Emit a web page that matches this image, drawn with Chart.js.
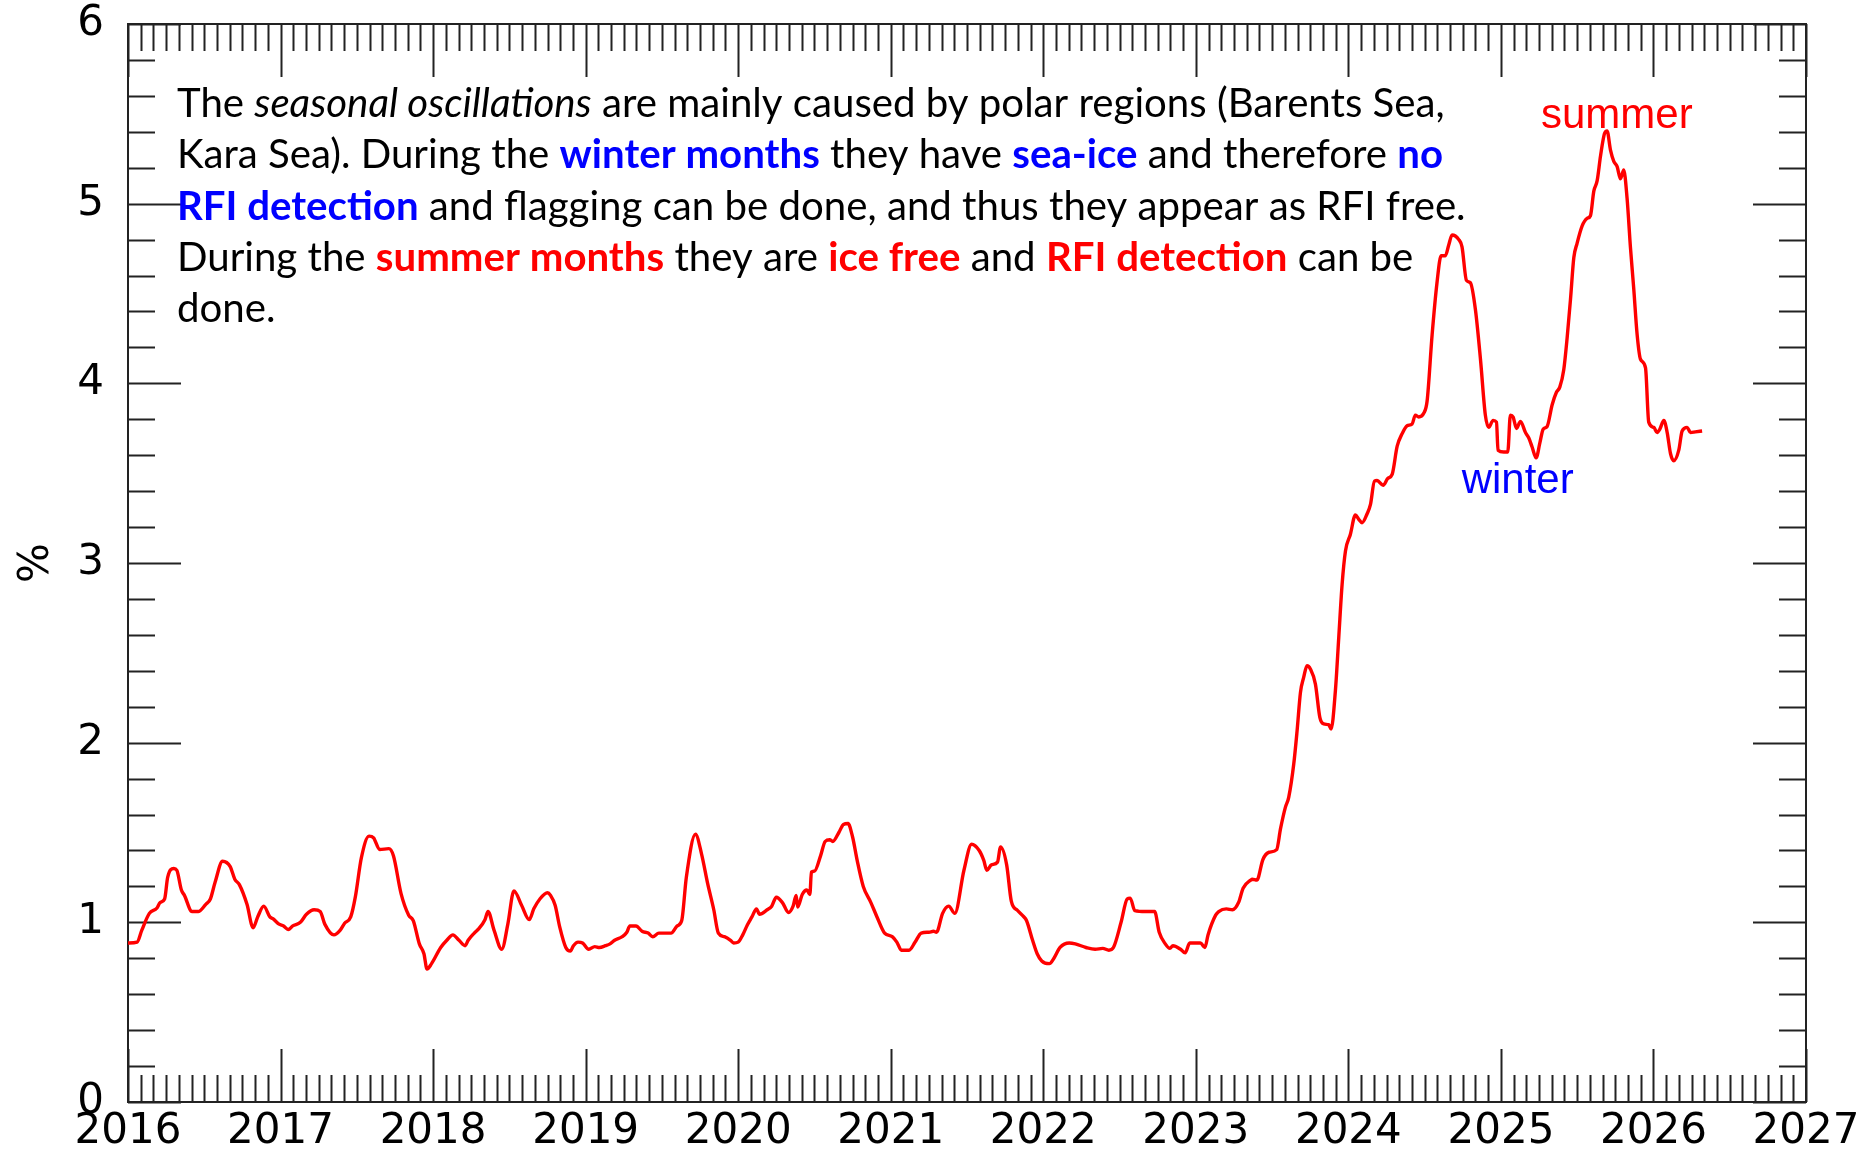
<!DOCTYPE html>
<html>
<head>
<meta charset="utf-8">
<title>RFI flagged percentage</title>
<script src="https://cdn.jsdelivr.net/npm/chart.js@4.4.1/dist/chart.umd.min.js"></script>
<style>
  html, body { margin: 0; padding: 0; background: #fff; }
  canvas { display: block; }
</style>
</head>
<body>
<canvas id="rfiChart" width="1875" height="1152"></canvas>
<script>
// sample time as decimal year
var years = [
  2016.00, 2016.06, 2016.09, 2016.14, 2016.19, 2016.21, 2016.24, 2016.26, 2016.30, 2016.32,
  2016.35, 2016.37, 2016.42, 2016.46, 2016.51, 2016.54, 2016.57, 2016.62, 2016.67, 2016.70,
  2016.73, 2016.78, 2016.82, 2016.85, 2016.89, 2016.93, 2016.95, 2016.99, 2017.02, 2017.05,
  2017.08, 2017.13, 2017.17, 2017.22, 2017.26, 2017.29, 2017.35, 2017.39, 2017.42, 2017.46,
  2017.49, 2017.53, 2017.58, 2017.61, 2017.65, 2017.71, 2017.74, 2017.79, 2017.84, 2017.87,
  2017.91, 2017.94, 2017.96, 2017.99, 2018.05, 2018.09, 2018.13, 2018.17, 2018.21, 2018.23,
  2018.27, 2018.30, 2018.34, 2018.36, 2018.40, 2018.45, 2018.49, 2018.53, 2018.58, 2018.63,
  2018.66, 2018.70, 2018.75, 2018.77, 2018.80, 2018.83, 2018.87, 2018.90, 2018.92, 2018.95,
  2018.98, 2019.02, 2019.06, 2019.09, 2019.13, 2019.16, 2019.19, 2019.24, 2019.27, 2019.29,
  2019.33, 2019.37, 2019.41, 2019.44, 2019.48, 2019.56, 2019.60, 2019.63, 2019.66, 2019.72,
  2019.76, 2019.80, 2019.84, 2019.87, 2019.91, 2019.95, 2019.97, 2020.00, 2020.03, 2020.06,
  2020.09, 2020.12, 2020.14, 2020.19, 2020.22, 2020.25, 2020.29, 2020.33, 2020.36, 2020.38,
  2020.39, 2020.42, 2020.45, 2020.47, 2020.48, 2020.50, 2020.54, 2020.57, 2020.60, 2020.62,
  2020.66, 2020.69, 2020.72, 2020.75, 2020.78, 2020.82, 2020.87, 2020.91, 2020.96, 2021.01,
  2021.04, 2021.07, 2021.12, 2021.16, 2021.20, 2021.25, 2021.28, 2021.30, 2021.34, 2021.38,
  2021.42, 2021.48, 2021.53, 2021.58, 2021.61, 2021.63, 2021.66, 2021.70, 2021.72, 2021.76,
  2021.79, 2021.83, 2021.87, 2021.89, 2021.93, 2021.96, 2021.99, 2022.04, 2022.07, 2022.11,
  2022.17, 2022.21, 2022.28, 2022.34, 2022.39, 2022.43, 2022.46, 2022.51, 2022.55, 2022.57,
  2022.60, 2022.67, 2022.73, 2022.76, 2022.80, 2022.83, 2022.85, 2022.90, 2022.93, 2022.96,
  2023.00, 2023.03, 2023.06, 2023.08, 2023.13, 2023.15, 2023.20, 2023.24, 2023.28, 2023.31,
  2023.36, 2023.37, 2023.40, 2023.44, 2023.48, 2023.53, 2023.555, 2023.587, 2023.609, 2023.642,
  2023.664, 2023.686, 2023.707, 2023.729, 2023.751, 2023.784, 2023.813, 2023.839, 2023.871, 2023.887,
  2023.915, 2023.937, 2023.959, 2023.981, 2024.013, 2024.046, 2024.068, 2024.090, 2024.123, 2024.145,
  2024.171, 2024.188, 2024.228, 2024.258, 2024.287, 2024.320, 2024.352, 2024.385, 2024.418, 2024.439,
  2024.461, 2024.494, 2024.516, 2024.549, 2024.581, 2024.608, 2024.636, 2024.658, 2024.680, 2024.724,
  2024.745, 2024.774, 2024.800, 2024.833, 2024.866, 2024.898, 2024.920, 2024.949, 2024.971, 2024.981,
  2025.019, 2025.045, 2025.062, 2025.080, 2025.102, 2025.128, 2025.161, 2025.183, 2025.204, 2025.231,
  2025.255, 2025.277, 2025.303, 2025.336, 2025.364, 2025.386, 2025.412, 2025.434, 2025.456, 2025.478,
  2025.499, 2025.532, 2025.565, 2025.587, 2025.609, 2025.631, 2025.653, 2025.679, 2025.696, 2025.718,
  2025.740, 2025.762, 2025.784, 2025.805, 2025.827, 2025.849, 2025.871, 2025.893, 2025.915, 2025.948,
  2025.969, 2026.002, 2026.024, 2026.042, 2026.068, 2026.090, 2026.112, 2026.133, 2026.166, 2026.188,
  2026.221, 2026.243, 2026.275, 2026.319
];

// flagged percentage (%)
var rfiPercent = [
  0.885, 0.89, 0.955, 1.05, 1.08, 1.11, 1.13, 1.25, 1.30, 1.29,
  1.18, 1.15, 1.06, 1.06, 1.10, 1.13, 1.22, 1.34, 1.31, 1.24,
  1.21, 1.10, 0.97, 1.03, 1.09, 1.03, 1.02, 0.99, 0.98, 0.96,
  0.98, 1.00, 1.045, 1.07, 1.06, 0.99, 0.93, 0.955, 0.995, 1.03,
  1.14, 1.36, 1.48, 1.47, 1.405, 1.41, 1.37, 1.16, 1.04, 1.01,
  0.88, 0.825, 0.74, 0.77, 0.86, 0.90, 0.93, 0.90, 0.87, 0.90,
  0.94, 0.965, 1.015, 1.06, 0.955, 0.85, 0.99, 1.175, 1.095, 1.015,
  1.075, 1.13, 1.165, 1.15, 1.095, 0.975, 0.86, 0.84, 0.87, 0.89,
  0.885, 0.85, 0.865, 0.86, 0.87, 0.88, 0.90, 0.92, 0.945, 0.98,
  0.98, 0.95, 0.94, 0.92, 0.94, 0.94, 0.98, 1.01, 1.25, 1.49,
  1.38, 1.215, 1.07, 0.94, 0.92, 0.90, 0.885, 0.89, 0.93, 0.985,
  1.03, 1.075, 1.045, 1.07, 1.09, 1.14, 1.11, 1.055, 1.09, 1.15,
  1.085, 1.155, 1.18, 1.155, 1.28, 1.285, 1.37, 1.45, 1.46, 1.45,
  1.50, 1.545, 1.55, 1.475, 1.345, 1.20, 1.11, 1.03, 0.94, 0.92,
  0.89, 0.845, 0.845, 0.89, 0.94, 0.945, 0.95, 0.945, 1.05, 1.09,
  1.05, 1.29, 1.435, 1.40, 1.345, 1.29, 1.32, 1.335, 1.42, 1.32,
  1.12, 1.067, 1.033, 1.01, 0.90, 0.825, 0.785, 0.77, 0.80, 0.86,
  0.885, 0.88, 0.86, 0.85, 0.855, 0.845, 0.86, 1.00, 1.13, 1.135,
  1.065, 1.06, 1.06, 0.945, 0.88, 0.855, 0.87, 0.85, 0.83, 0.885,
  0.885, 0.885, 0.86, 0.93, 1.04, 1.06, 1.075, 1.07, 1.11, 1.19,
  1.235, 1.24, 1.235, 1.35, 1.39, 1.405, 1.52, 1.64, 1.696, 1.881,
  2.067, 2.28, 2.363, 2.428, 2.41, 2.326, 2.141, 2.104, 2.10, 2.076,
  2.289, 2.585, 2.881, 3.067, 3.159, 3.267, 3.243, 3.224, 3.274, 3.326,
  3.456, 3.459, 3.433, 3.470, 3.493, 3.65, 3.719, 3.764, 3.774, 3.823,
  3.813, 3.833, 3.90, 4.27, 4.56, 4.71, 4.71, 4.77, 4.826, 4.80,
  4.76, 4.573, 4.56, 4.41, 4.134, 3.823, 3.755, 3.794, 3.784, 3.628,
  3.618, 3.618, 3.823, 3.813, 3.749, 3.788, 3.726, 3.696, 3.647, 3.585,
  3.667, 3.745, 3.76, 3.881, 3.95, 3.979, 4.076, 4.252, 4.466, 4.70,
  4.778, 4.875, 4.918, 4.933, 5.07, 5.128, 5.265, 5.39, 5.405, 5.30,
  5.236, 5.206, 5.138, 5.187, 5.031, 4.758, 4.524, 4.271, 4.134, 4.086,
  3.784, 3.755, 3.726, 3.745, 3.794, 3.726, 3.608, 3.569, 3.628, 3.735,
  3.755, 3.726, 3.73, 3.735
];

var xTickLabels = ['2016', '2017', '2018', '2019', '2020', '2021', '2022', '2023', '2024', '2025', '2026', '2027'];
var yTickLabels = ['0', '1', '2', '3', '4', '5', '6'];

// note text, each piece is [text, style]
var noteLines = [
  [['The ', 'plain'], ['seasonal oscillations', 'italic'], [' are mainly caused by polar regions (Barents Sea,', 'plain']],
  [['Kara Sea). During the ', 'plain'], ['winter months', 'blue'], [' they have ', 'plain'], ['sea-ice', 'blue'], [' and therefore ', 'plain'], ['no', 'blue']],
  [['RFI detection', 'blue'], [' and flagging can be done, and thus they appear as RFI free.', 'plain']],
  [['During the ', 'plain'], ['summer months', 'red'], [' they are ', 'plain'], ['ice free', 'red'], [' and ', 'plain'], ['RFI detection', 'red'], [' can be', 'plain']],
  [['done.', 'plain']]
];

var seasonNotes = [
  { text: 'summer', year: 2025.76, value: 5.42, color: '#ff0000' },
  { text: 'winter', year: 2025.11, value: 3.39, color: '#0000ff' }
];

var noteStyles = {
  plain:  { weight: 'normal', slant: 'normal', color: '#000000' },
  italic: { weight: 'normal', slant: 'italic', color: '#000000' },
  blue:   { weight: 'bold',   slant: 'normal', color: '#0000ff' },
  red:    { weight: 'bold',   slant: 'normal', color: '#ff0000' }
};

var points = years.map(function(y, i) { return { x: y, y: rfiPercent[i] }; });

// frame with inward ticks on all four sides
var frameTicks = {
  id: 'frameTicks',
  beforeDatasetsDraw: function(chart) {
    var ctx = chart.ctx;
    var a = chart.chartArea;
    var xs = chart.scales.x;
    var ys = chart.scales.y;
    ctx.save();
    ctx.strokeStyle = '#222222';
    ctx.lineWidth = 2;
    ctx.strokeRect(a.left, a.top, a.right - a.left, a.bottom - a.top);
    ctx.beginPath();
    for (var yr = 2016; yr <= 2027; yr++) {
      for (var m = 0; m < 12; m++) {
        if (yr === 2027 && m > 0) break;
        var px = Math.round(xs.getPixelForValue(yr + m / 12)) + 0.5;
        var len = m === 0 ? 53 : 27;
        ctx.moveTo(px, a.bottom); ctx.lineTo(px, a.bottom - len);
        ctx.moveTo(px, a.top); ctx.lineTo(px, a.top + len);
      }
    }
    for (var k = 0; k <= 30; k++) {
      var py = Math.round(ys.getPixelForValue(k * 0.2)) + 0.5;
      var l2 = k % 5 === 0 ? 53 : 27;
      ctx.moveTo(a.left, py); ctx.lineTo(a.left + l2, py);
      ctx.moveTo(a.right, py); ctx.lineTo(a.right - l2, py);
    }
    ctx.stroke();
    ctx.restore();
  }
};

function noteFont(style, size) {
  var s = noteStyles[style];
  return s.slant + ' ' + s.weight + ' ' + size + 'px Lato';
}

function lineWidth(ctx, line, size) {
  var w = 0;
  line.forEach(function(p) { ctx.font = noteFont(p[1], size); w += ctx.measureText(p[0]).width; });
  return w;
}

var notes = {
  id: 'notes',
  afterDatasetsDraw: function(chart) {
    var ctx = chart.ctx;
    var a = chart.chartArea;
    ctx.save();
    ctx.textBaseline = 'alphabetic';
    ctx.textAlign = 'left';
    // size the paragraph so the first line spans like the original
    var size = 40 * 1268 / lineWidth(ctx, noteLines[0], 40);
    noteLines.forEach(function(line, i) {
      var x = a.left + 49;
      var y = a.top + 93 + i * 51.3;
      line.forEach(function(p) {
        ctx.font = noteFont(p[1], size);
        ctx.fillStyle = noteStyles[p[1]].color;
        ctx.fillText(p[0], x, y);
        x += ctx.measureText(p[0]).width;
      });
    });
    ctx.textAlign = 'center';
    ctx.font = '42px "Liberation Sans"';
    seasonNotes.forEach(function(n) {
      ctx.fillStyle = n.color;
      ctx.fillText(n.text, chart.scales.x.getPixelForValue(n.year), chart.scales.y.getPixelForValue(n.value));
    });
    ctx.restore();
  }
};

var ctx = document.getElementById('rfiChart').getContext('2d');
new Chart(ctx, {
  type: 'line',
  data: {
    datasets: [{
      label: 'RFI',
      data: points,
      borderColor: '#ff0000',
      borderWidth: 3.4,
      pointRadius: 0,
      cubicInterpolationMode: 'monotone',
      fill: false
    }]
  },
  options: {
    responsive: false,
    animation: false,
    devicePixelRatio: 1,
    layout: { padding: { top: 24, right: 69, left: 0, bottom: 0 } },
    plugins: {
      legend: { display: false },
      tooltip: { enabled: false }
    },
    scales: {
      x: {
        type: 'linear',
        min: 2016,
        max: 2027,
        afterFit: function(s) { s.height = 50; },
        afterBuildTicks: function(s) {
          s.ticks = xTickLabels.map(function(t) { return { value: Number(t) }; });
        },
        grid: { display: false, drawTicks: false },
        border: { display: false },
        ticks: {
          autoSkip: false,
          maxRotation: 0,
          padding: 9,
          color: '#000000',
          font: { family: '"DejaVu Sans"', size: 42, lineHeight: 1 },
          callback: function(v, i) { return xTickLabels[i]; }
        }
      },
      y: {
        min: 0,
        max: 6,
        afterFit: function(s) {
          s.width = 128;
          s.paddingTop = 0;
          s.paddingBottom = 0;
        },
        afterBuildTicks: function(s) {
          s.ticks = yTickLabels.map(function(t) { return { value: Number(t) }; });
        },
        grid: { display: false, drawTicks: false },
        border: { display: false },
        title: {
          display: true,
          text: '%',
          color: '#000000',
          padding: { top: 12, bottom: 0 },
          font: { family: '"DejaVu Sans"', size: 42 }
        },
        ticks: {
          padding: 24,
          color: '#000000',
          font: { family: '"DejaVu Sans"', size: 42, lineHeight: 1 },
          callback: function(v, i) { return yTickLabels[i]; }
        }
      }
    }
  },
  plugins: [frameTicks, notes]
});
</script>
</body>
</html>
